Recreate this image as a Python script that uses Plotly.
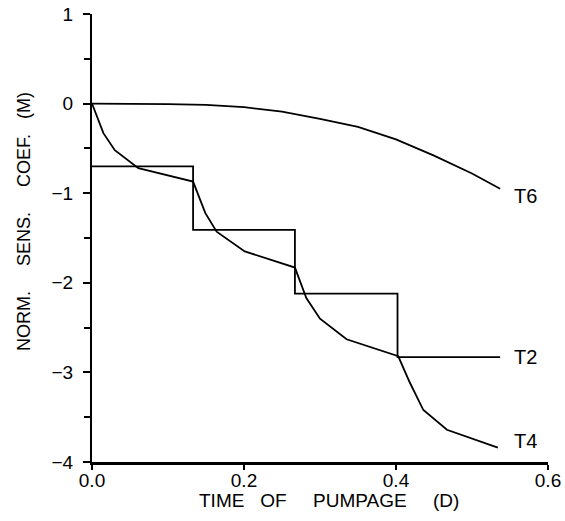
import plotly.graph_objects as go

t6_x = [0, 0.05, 0.1, 0.15, 0.2, 0.25, 0.3, 0.35, 0.4, 0.45, 0.5, 0.537]
t6_y = [0, 0, -0.005, -0.015, -0.04, -0.09, -0.17, -0.26, -0.40, -0.58, -0.78, -0.95]

t2_x = [0, 0.133, 0.133, 0.267, 0.267, 0.402, 0.402, 0.537]
t2_y = [-0.70, -0.70, -1.41, -1.41, -2.12, -2.12, -2.83, -2.83]

t4_x = [0, 0.015, 0.030, 0.061, 0.133, 0.149, 0.164, 0.201, 0.267, 0.282, 0.300,
        0.335, 0.403, 0.418, 0.436, 0.467, 0.534]
t4_y = [0, -0.33, -0.52, -0.72, -0.87, -1.22, -1.43, -1.65, -1.83, -2.17, -2.40,
        -2.63, -2.82, -3.11, -3.42, -3.64, -3.84]

labels = ["T6", "T2", "T4"]
label_x = [0.552, 0.552, 0.552]
label_y = [-1.03, -2.83, -3.77]

x_ticks = [0, 0.2, 0.4, 0.6]
x_ticktext = ["0.0", "0.2", "0.4", "0.6"]
y_ticks = [-4, -3, -2, -1, 0, 1]
y_ticktext = ["\u22124", "\u22123", "\u22122", "\u22121", "0", "1"]
y_minor = [-3.5, -2.5, -1.5, -0.5, 0.5]

x_title = "TIME   OF     PUMPAGE     (D)"
y_title = "NORM.     SENS.     COEF.   (M)"

font = "Liberation Sans, Arial, sans-serif"
fig = go.Figure()
for xs, ys in [(t6_x, t6_y), (t2_x, t2_y), (t4_x, t4_y)]:
    fig.add_trace(go.Scatter(x=xs, y=ys, mode="lines",
                             line=dict(color="black", width=1.8), showlegend=False))

for lab, lx, ly in zip(labels, label_x, label_y):
    fig.add_annotation(x=lx, y=ly, text=lab, showarrow=False, xanchor="left",
                       yanchor="middle", font=dict(family=font, size=20, color="black"))

fig.add_annotation(x=0.52, y=-0.087, xref="paper", yref="paper", text=x_title,
                   showarrow=False, xanchor="center", yanchor="middle",
                   font=dict(family=font, size=19, color="black"))
fig.add_annotation(x=-0.149, y=0.536, xref="paper", yref="paper", text=y_title,
                   showarrow=False, xanchor="center", yanchor="middle", textangle=-90,
                   font=dict(family=font, size=18, color="black"))

fig.update_layout(
    width=565, height=521,
    margin=dict(l=92, r=17, t=14, b=59),
    plot_bgcolor="white", paper_bgcolor="white",
    font=dict(family=font, size=19, color="black"),
)
fig.update_xaxes(range=[0, 0.6], tickvals=x_ticks, ticktext=x_ticktext,
                 showline=True, linecolor="black", linewidth=3, ticks="outside", ticklen=5,
                 tickwidth=2, tickcolor="black", showgrid=False, zeroline=False,
                 tickfont=dict(size=19), automargin=False, ticklabeloverflow="allow",
                 ticklabelstandoff=-6)
fig.update_yaxes(range=[-4, 1], tickvals=y_ticks, ticktext=y_ticktext,
                 showline=True, linecolor="black", linewidth=2, ticks="outside", ticklen=7,
                 tickwidth=2, tickcolor="black", showgrid=False, zeroline=False,
                 tickfont=dict(size=19), automargin=False, ticklabelstandoff=6,
                 ticklabeloverflow="allow",
                 minor=dict(tickvals=y_minor, ticks="outside", ticklen=6,
                            tickwidth=2, tickcolor="black", showgrid=False))
fig.write_html("out.html", config={"displayModeBar": False},
               post_script="document.body.style.margin='0px';")
